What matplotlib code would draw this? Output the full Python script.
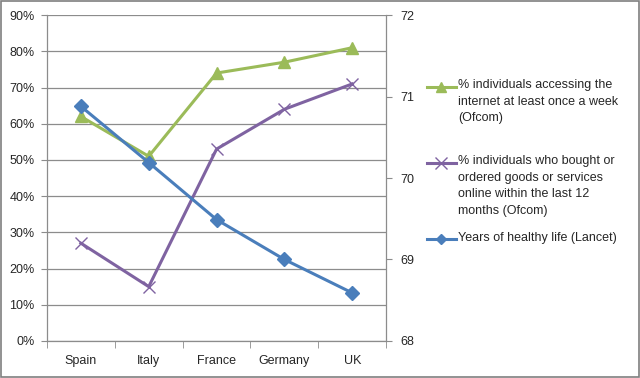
import matplotlib.pyplot as plt
from matplotlib.lines import Line2D
from matplotlib.patches import Rectangle
from matplotlib.ticker import PercentFormatter

countries = ['Spain', 'Italy', 'France', 'Germany', 'UK']
internet_weekly = [62, 51, 74, 77, 81]      # % (left axis)
bought_online = [27, 15, 53, 64, 71]        # % (left axis)
healthy_years = [70.88, 70.19, 69.49, 69.0, 68.59]  # years (right axis)

labels = [
    '% individuals accessing the\ninternet at least once a week\n(Ofcom)',
    '% individuals who bought or\nordered goods or services\nonline within the last 12\nmonths (Ofcom)',
    'Years of healthy life (Lancet)',
]

GREEN = '#9BBB59'
PURPLE = '#7F63A1'
BLUE = '#4A7EBB'
GRID = '#8C8C8C'
TXT = '#262626'
W, H = 640, 378

plt.rcParams['font.family'] = ['Liberation Sans', 'DejaVu Sans']
plt.rcParams['font.size'] = 9

fig = plt.figure(figsize=(6.4, 3.78), dpi=100)
fig.patches.append(Rectangle((0.0015, 0.0025), 0.997, 0.995, transform=fig.transFigure,
                             fill=False, edgecolor='#7F7F7F', linewidth=1.2))

ax = fig.add_axes([0.0734, 0.098, 0.530, 0.862])
ax2 = ax.twinx()

x = list(range(len(countries)))

ax.plot(x, internet_weekly, color=GREEN, lw=2.2, marker='^', ms=9, zorder=3)
ax.plot(x, bought_online, color=PURPLE, lw=2.2, marker='x', ms=9, mew=1.0, zorder=3)
ax2.plot(x, healthy_years, color=BLUE, lw=2.2, marker='D', ms=7, zorder=3)

ax.set_xlim(-0.5, len(countries) - 0.5)
ax.set_ylim(0, 90)
ax.set_yticks(range(0, 91, 10))
ax.yaxis.set_major_formatter(PercentFormatter(decimals=0))
ax2.set_ylim(68, 72)
ax2.set_yticks([68, 69, 70, 71, 72])

ax.set_xticks(x)
ax.set_xticklabels(countries)
ax.set_xticks([i - 0.5 for i in range(len(countries) + 1)], minor=True)
ax.tick_params(axis='x', which='major', length=0, pad=10, colors=TXT)
ax.tick_params(axis='x', which='minor', length=5, color=GRID)
ax.tick_params(axis='y', length=4, color=GRID, labelcolor=TXT, pad=5)
ax2.tick_params(axis='y', length=4, color=GRID, labelcolor=TXT, pad=6)

ax.grid(axis='y', color=GRID, lw=0.9)
ax.set_axisbelow(True)

for a in (ax, ax2):
    a.spines['top'].set_visible(False)
    for s in ('left', 'right', 'bottom'):
        a.spines[s].set_color(GRID)
        a.spines[s].set_linewidth(0.9)
ax.spines['right'].set_visible(False)
ax2.spines['left'].set_visible(False)
ax2.spines['bottom'].set_visible(False)

# legend drawn by hand so the key sits on the first text line, as in Excel
styles = [
    dict(color=GREEN, marker='^', ms=7),
    dict(color=PURPLE, marker='x', ms=8, mew=1.0),
    dict(color=BLUE, marker='D', ms=5),
]
first_line_y = [87, 163, 239]
for st, lab, py in zip(styles, labels, first_line_y):
    yf = 1 - py / H
    fig.add_artist(Line2D([427 / W, 456 / W], [yf, yf], lw=2.2, transform=fig.transFigure,
                          color=st['color']))
    fig.add_artist(Line2D([441 / W], [yf], lw=0, transform=fig.transFigure, **st))
    fig.text(458 / W, yf + 7.5 / H, lab, ha='left', va='top', color=TXT, linespacing=1.5)

fig.savefig('out.png', dpi=100)
